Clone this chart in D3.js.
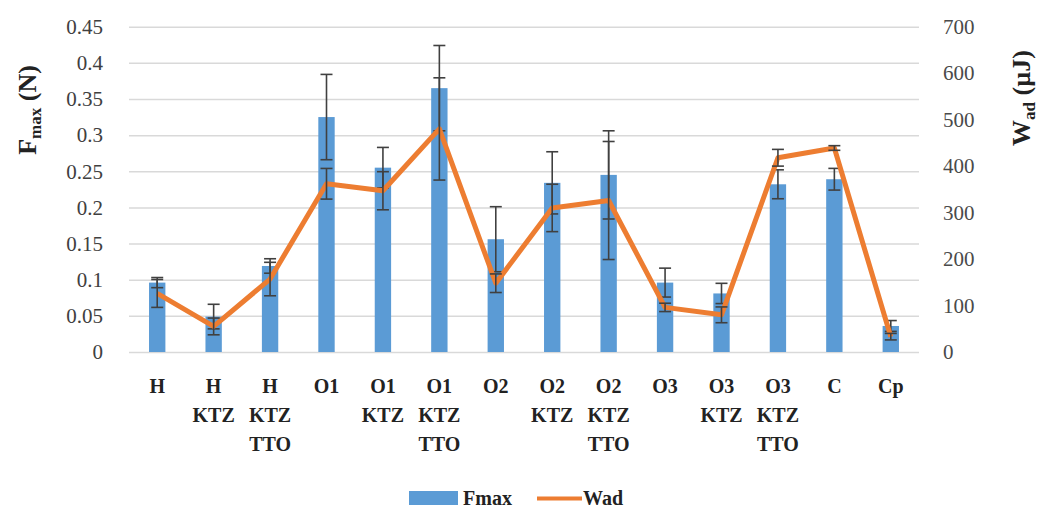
<!DOCTYPE html>
<html>
<head>
<meta charset="utf-8">
<script src="https://cdn.jsdelivr.net/npm/d3@7"></script>
<style>
  html, body { margin: 0; padding: 0; background: #fff; }
  svg { display: block; }
  svg text { font-family: "Liberation Serif", "Times New Roman", serif; }
</style>
</head>
<body>
<svg id="chart" width="1038" height="509"></svg>
<script>
// Formulations (each label is split into its printed lines)
const categories = [
  ["H"], ["H", "KTZ"], ["H", "KTZ", "TTO"],
  ["O1"], ["O1", "KTZ"], ["O1", "KTZ", "TTO"],
  ["O2"], ["O2", "KTZ"], ["O2", "KTZ", "TTO"],
  ["O3"], ["O3", "KTZ"], ["O3", "KTZ", "TTO"],
  ["C"], ["Cp"]
];
// Maximum detachment force (N) and its standard deviation
const fmax    = [0.096, 0.049, 0.119, 0.325, 0.255, 0.365, 0.156, 0.234, 0.245, 0.096, 0.081, 0.232, 0.239, 0.036];
const fmaxErr = [0.007, 0.017, 0.010, 0.059, 0.028, 0.059, 0.045, 0.043, 0.061, 0.020, 0.014, 0.020, 0.015, 0.0075];
// Work of adhesion (µJ) and its standard deviation
const wad     = [126, 55, 157, 362, 347, 480, 148, 310, 326, 96, 80, 418, 439, 33];
const wadErr  = [30, 18, 36, 33, 41, 110, 20, 51, 127, 9, 17, 18, 5, 7];
// Axis ticks
const leftTicks  = [0, 0.05, 0.1, 0.15, 0.2, 0.25, 0.3, 0.35, 0.4, 0.45];
const rightTicks = [0, 100, 200, 300, 400, 500, 600, 700];

const BLUE = "#5B9BD5", ORANGE = "#ED7D31", ERR = "#404040", GRID = "#D9D9D9";
const SERIF = "'Liberation Serif', 'Times New Roman', serif";

const svg = d3.select("#chart");
const plot = { left: 129, right: 919, top: 26.7, bottom: 352 };

const keys = categories.map(c => c.join(" "));
const x = d3.scaleBand(keys, [plot.left, plot.right]).paddingInner(0.71).paddingOuter(0.355);
const yL = d3.scaleLinear([0, 0.45], [plot.bottom, plot.top]);
const yR = d3.scaleLinear([0, 700], [plot.bottom, plot.top]);
const cx = i => x(keys[i]) + x.bandwidth() / 2;

// Horizontal gridlines
const grid = svg.append("g")
  .attr("transform", `translate(${plot.left},0)`)
  .call(d3.axisLeft(yL).tickValues(leftTicks).tickSize(-(plot.right - plot.left)).tickFormat(""));
grid.select(".domain").remove();
grid.selectAll(".tick line").attr("stroke", GRID).attr("stroke-width", 1.5);

// Left axis labels
const axL = svg.append("g")
  .attr("transform", `translate(${plot.left - 18},0)`)
  .call(d3.axisLeft(yL).tickValues(leftTicks).tickSize(0).tickPadding(8).tickFormat(d3.format("~g")))
  .attr("font-family", SERIF).attr("font-size", 21);
axL.select(".domain").remove();
axL.selectAll("text").attr("fill", "#404040");

// Right axis labels
const axR = svg.append("g")
  .attr("transform", `translate(${plot.right + 15},0)`)
  .call(d3.axisRight(yR).tickValues(rightTicks).tickSize(0).tickPadding(9).tickFormat(d3.format("d")))
  .attr("font-family", SERIF).attr("font-size", 21);
axR.select(".domain").remove();
axR.selectAll("text").attr("fill", "#4a4a4a");

// Fmax bars
svg.append("g").selectAll("rect")
  .data(fmax)
  .join("rect")
  .attr("x", (d, i) => x(keys[i]))
  .attr("width", x.bandwidth())
  .attr("y", d => yL(d))
  .attr("height", d => yL(0) - yL(d))
  .attr("fill", BLUE);

// Error bar helper
function errorBars(values, errs, scale) {
  const g = svg.append("g").attr("stroke", ERR).attr("stroke-width", 1.6).attr("fill", "none");
  values.forEach((v, i) => {
    const c = cx(i), hi = scale(v + errs[i]), lo = scale(v - errs[i]);
    g.append("line").attr("x1", c).attr("x2", c).attr("y1", hi).attr("y2", lo);
    g.append("line").attr("x1", c - 6).attr("x2", c + 6).attr("y1", hi).attr("y2", hi);
    g.append("line").attr("x1", c - 6).attr("x2", c + 6).attr("y1", lo).attr("y2", lo);
  });
}
errorBars(fmax, fmaxErr, yL);

// Wad line
svg.append("path")
  .datum(wad)
  .attr("fill", "none")
  .attr("stroke", ORANGE)
  .attr("stroke-width", 5)
  .attr("stroke-linejoin", "round")
  .attr("d", d3.line().x((d, i) => cx(i)).y(d => yR(d)));

errorBars(wad, wadErr, yR);

// Category labels
const xl = svg.append("g").attr("font-family", SERIF);
categories.forEach((lines, i) => {
  const t = xl.append("text")
    .attr("x", cx(i)).attr("y", 393)
    .attr("text-anchor", "middle")
    .attr("font-size", 20).attr("font-weight", "bold").attr("fill", "#222");
  lines.forEach((s, j) => {
    t.append("tspan").attr("x", cx(i)).attr("y", 393 + j * 29).text(s);
  });
});

// Axis titles
const tL = svg.append("text")
  .attr("transform", "translate(36,110) rotate(-90)")
  .attr("text-anchor", "middle").attr("font-family", SERIF)
  .attr("font-size", 26).attr("font-weight", "bold").attr("fill", "#222");
tL.append("tspan").text("F");
tL.append("tspan").attr("font-size", 17).attr("dy", 5).text("max");
tL.append("tspan").attr("dy", -5).text(" (N)");

const tR = svg.append("text")
  .attr("transform", "translate(1030,98) rotate(-90)")
  .attr("text-anchor", "middle").attr("font-family", SERIF)
  .attr("font-size", 26).attr("font-weight", "bold").attr("fill", "#222");
tR.append("tspan").text("W");
tR.append("tspan").attr("font-size", 17).attr("dy", 5).text("ad");
tR.append("tspan").attr("dy", -5).text(" (µJ)");

// Legend
const lg = svg.append("g").attr("font-family", SERIF);
lg.append("rect").attr("x", 409).attr("y", 491).attr("width", 49).attr("height", 14).attr("fill", BLUE);
lg.append("text").attr("x", 463).attr("y", 505).attr("font-size", 20).attr("font-weight", "bold").attr("fill", "#222").text("Fmax");
lg.append("line").attr("x1", 537).attr("x2", 582).attr("y1", 498.5).attr("y2", 498.5)
  .attr("stroke", ORANGE).attr("stroke-width", 4);
lg.append("text").attr("x", 583).attr("y", 505).attr("font-size", 20).attr("font-weight", "bold").attr("fill", "#222").text("Wad");
</script>
</body>
</html>
